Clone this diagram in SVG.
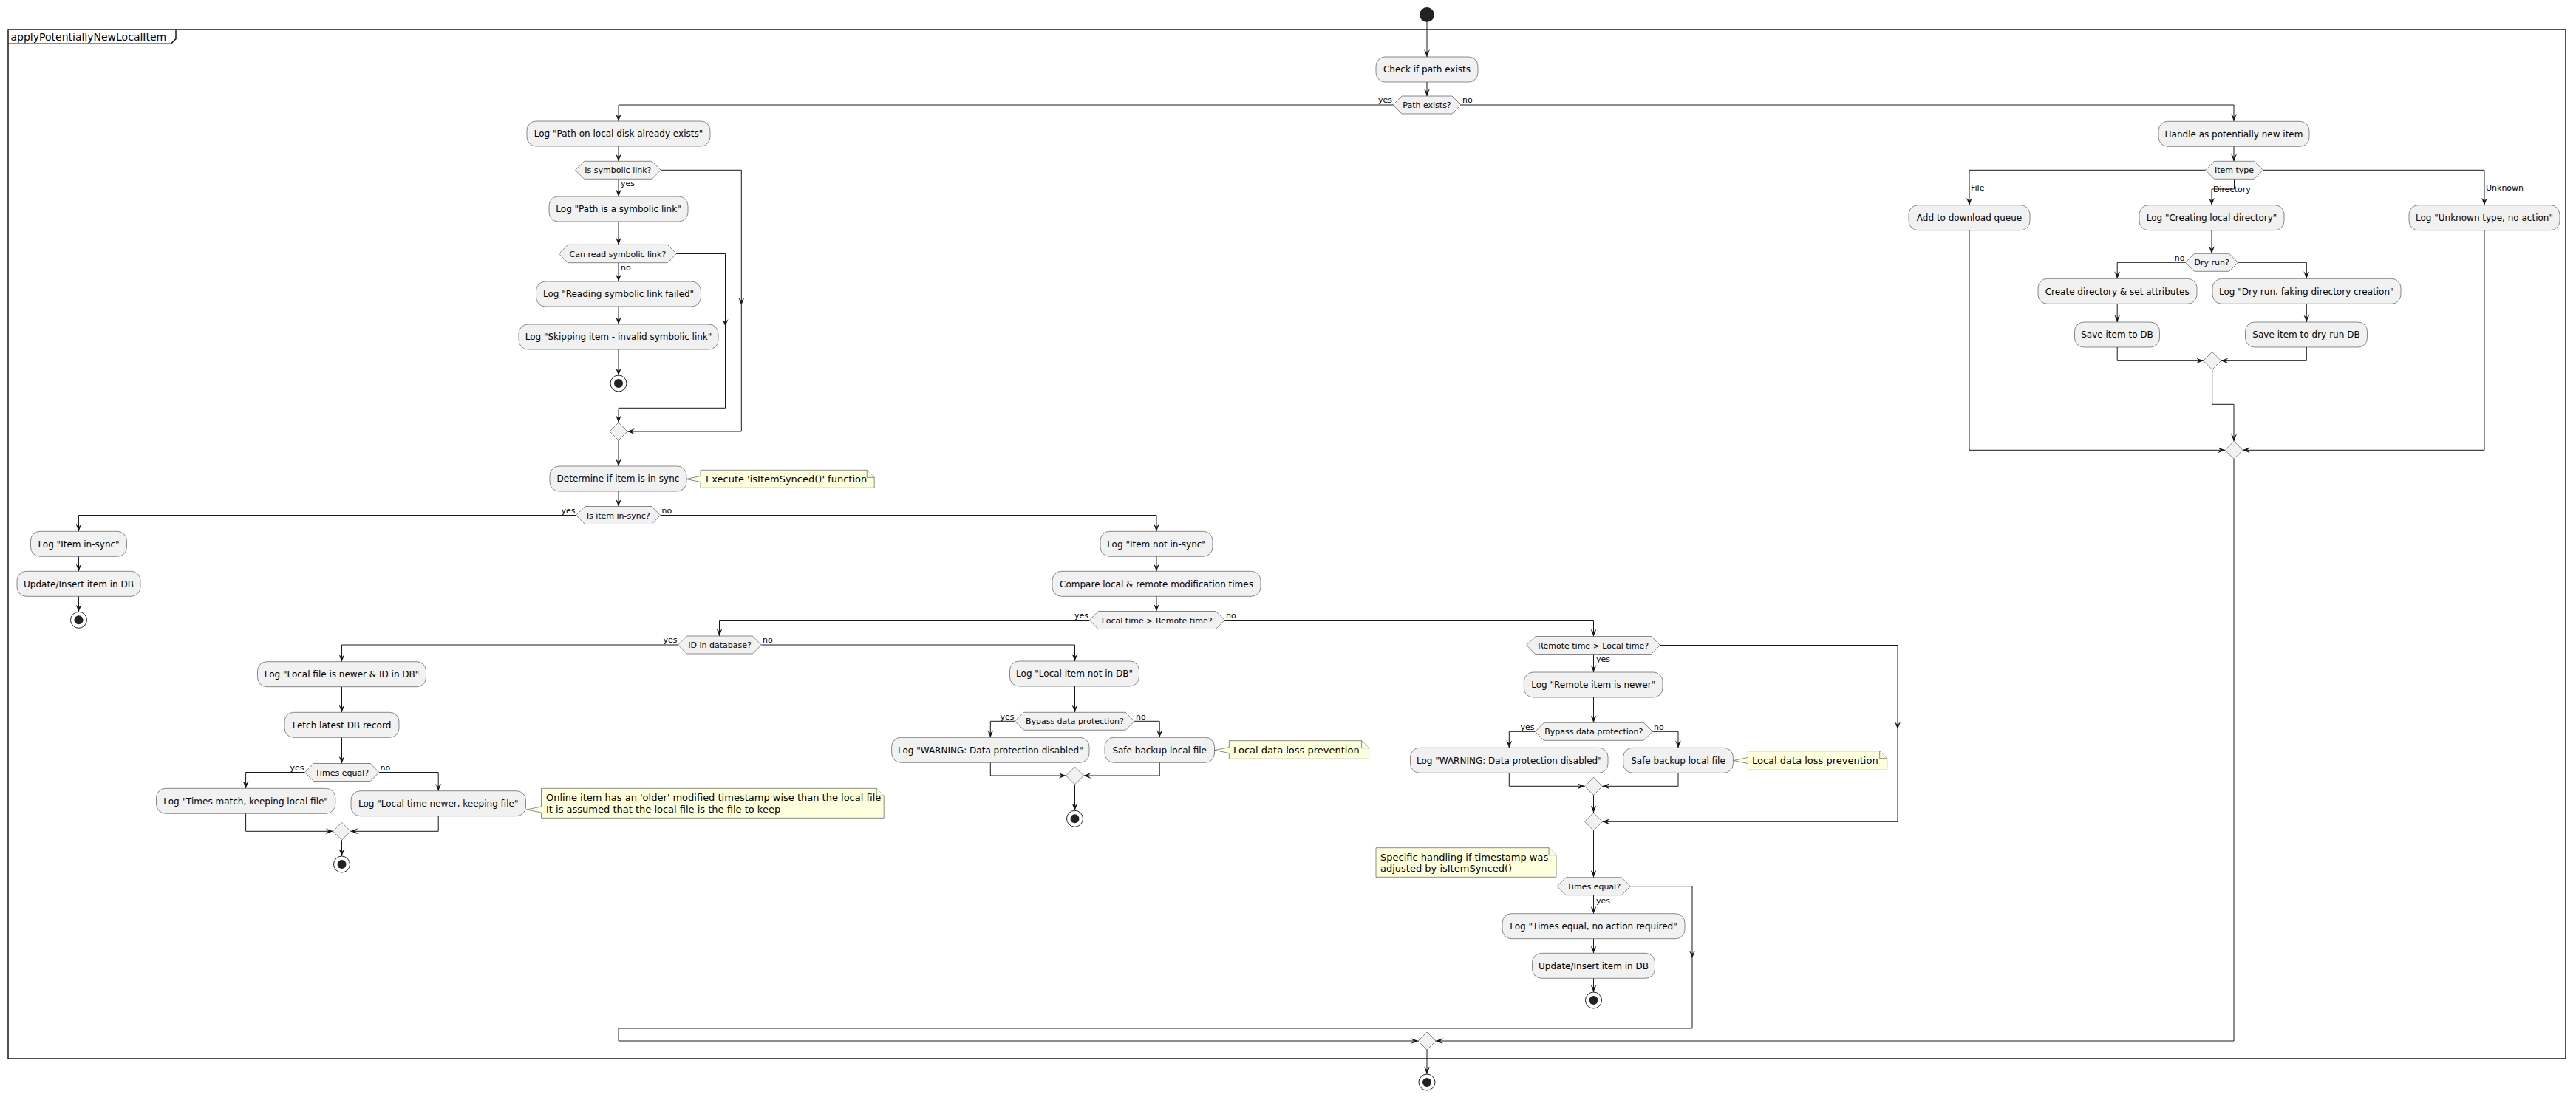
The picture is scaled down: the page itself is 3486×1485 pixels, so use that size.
<svg xmlns="http://www.w3.org/2000/svg" width="3486" height="1485" viewBox="0 0 3486 1485">
<defs>
<style>
.box{fill:#F1F1F1;stroke:#181818;stroke-width:0.5}
.note{fill:#FEFFDD;stroke:#181818;stroke-width:0.5}
.ln{fill:none;stroke:#181818;stroke-width:1}
.ar{fill:none;stroke:#181818;stroke-width:1;marker-end:url(#a)}
.t{font-family:"DejaVu Sans","Liberation Sans",sans-serif;font-size:12px;text-anchor:middle;fill:#000}
.td{font-family:"DejaVu Sans","Liberation Sans",sans-serif;font-size:11px;text-anchor:middle;fill:#000}
.lb{font-family:"DejaVu Sans","Liberation Sans",sans-serif;font-size:11px;fill:#000}
.lbe{font-family:"DejaVu Sans","Liberation Sans",sans-serif;font-size:11px;fill:#000;text-anchor:end}
.tn{font-family:"DejaVu Sans","Liberation Sans",sans-serif;font-size:13px;fill:#000}
.start{fill:#222222}
.stopo{fill:none;stroke:#222222;stroke-width:1}
.stopi{fill:#222222}
</style>
<marker id="a" viewBox="0 0 10 8" refX="10" refY="4" markerWidth="10" markerHeight="8" markerUnits="userSpaceOnUse" orient="auto"><path d="M0,0 L10,4 L0,8 L4,4 Z" fill="#181818"/></marker>
</defs>
<rect width="3486" height="1485" fill="#FFFFFF"/>

<g id="frame">
<rect x="11" y="40" width="3461" height="1393" fill="none" stroke="#181818" stroke-width="1.5"/>
<path d="M11,59.3 H231.3 L238,52.6 V40" fill="none" stroke="#181818" stroke-width="1.5"/>
<text x="14.5" y="55" font-family="DejaVu Sans, sans-serif" font-size="14px">applyPotentiallyNewLocalItem</text>
</g>

<g id="connectors">
<path class="ar" d="M1931,30 V77"/>
<path class="ar" d="M1931,111 V130"/>
<path class="ar" d="M1885,142 H837 V164"/>
<path class="ar" d="M1977,142 H3023 V164"/>
<path class="ar" d="M837,198 V218.3"/>
<path class="ar" d="M837,242.3 V266"/>
<path class="ar" d="M837,300 V331.3"/>
<path class="ar" d="M837,355.7 V381"/>
<path class="ar" d="M837,415 V439"/>
<path class="ar" d="M837,473 V508"/>
<path class="ar" d="M915.3,343.5 H981.5 V442"/>
<path class="ar" d="M981.5,442 V552.3 H837 V572"/>
<path class="ar" d="M894.2,230.3 H1003.3 V413"/>
<path class="ar" d="M1003.3,413 V584 H849"/>
<path class="ar" d="M837,596 V631"/>
<path class="ar" d="M837,665 V685.5"/>
<path class="ar" d="M779.6,697.5 H106.5 V719.3"/>
<path class="ar" d="M106.5,753.3 V773.3"/>
<path class="ar" d="M106.5,807.3 V828.3"/>
<path class="ar" d="M893.8,697.5 H1565 V719.3"/>
<path class="ar" d="M1565,753.3 V773.3"/>
<path class="ar" d="M1565,807.3 V827.5"/>
<path class="ar" d="M1474.2,839.5 H973.5 V861"/>
<path class="ar" d="M1657.3,839.5 H2156.5 V861.5"/>
<path class="ar" d="M917.5,873 H462.5 V895.7"/>
<path class="ar" d="M462.5,929.7 V964.3"/>
<path class="ar" d="M462.5,998.3 V1033.5"/>
<path class="ar" d="M412.4,1045.5 H332.6 V1067.3"/>
<path class="ar" d="M513.1,1045.5 H593.2 V1070.7"/>
<path class="ar" d="M332.6,1101.3 V1125.3 H450.5"/>
<path class="ar" d="M593.2,1104.7 V1125.3 H474.5"/>
<path class="ar" d="M462.5,1137.3 V1159"/>
<path class="ar" d="M1030.4,873 H1454.5 V895"/>
<path class="ar" d="M1454.5,929 V964.3"/>
<path class="ar" d="M1373.5,976.3 H1340.3 V998.3"/>
<path class="ar" d="M1535.2,976.3 H1569.2 V998.3"/>
<path class="ar" d="M1340.3,1032.3 V1050 H1442.5"/>
<path class="ar" d="M1569.2,1032.3 V1050 H1466.5"/>
<path class="ar" d="M1454.5,1062 V1097.3"/>
<path class="ar" d="M2156.5,885.5 V910"/>
<path class="ar" d="M2156.5,944 V978.3"/>
<path class="ar" d="M2077.3,990.3 H2042.3 V1012.3"/>
<path class="ar" d="M2236.3,990.3 H2271 V1012.3"/>
<path class="ar" d="M2042.3,1046.3 V1064.3 H2144.5"/>
<path class="ar" d="M2271,1046.3 V1064.3 H2168.5"/>
<path class="ar" d="M2156.5,1076.3 V1100.3"/>
<path class="ar" d="M2246.6,873.5 H2568 V987"/>
<path class="ar" d="M2568,987 V1112.3 H2168.5"/>
<path class="ar" d="M2156.5,1124.3 V1187.7"/>
<path class="ar" d="M2156.5,1211.7 V1236.7"/>
<path class="ar" d="M2156.5,1270.7 V1290.3"/>
<path class="ar" d="M2156.5,1324.3 V1343"/>
<path class="ar" d="M2206.4,1199.7 H2290 V1297"/>
<path class="ar" d="M2290,1297 V1392 H837 V1409 H1919"/>
<path class="ar" d="M3023,198.3 V218.3"/>
<path class="ar" d="M2984.6,230.3 H2665 V277.7"/>
<path class="ar" d="M3023.5,242.3 V256 H2993 V277.7"/>
<path class="ar" d="M3062.5,230.3 H3362 V277.7"/>
<path class="ar" d="M2993,311.7 V343.3"/>
<path class="ar" d="M2957.5,355.3 H2865.2 V377.3"/>
<path class="ar" d="M3028.7,355.3 H3121.3 V377.3"/>
<path class="ar" d="M2865.2,411.3 V436"/>
<path class="ar" d="M3121.3,411.3 V436"/>
<path class="ar" d="M2865.2,470 V488.3 H2981.7"/>
<path class="ar" d="M3121.3,470 V488.3 H3005.7"/>
<path class="ar" d="M2993.7,500.3 V547.3 H3023 V597.3"/>
<path class="ar" d="M2665,311.7 V609.3 H3011"/>
<path class="ar" d="M3362,311.7 V609.3 H3035"/>
<path class="ar" d="M3023,621.3 V1409 H1943"/>
<path class="ar" d="M1931,1421 V1454"/>
</g>

<g id="start"><circle class="start" cx="1931" cy="20" r="10"/></g>

<g id="n_check"><rect class="box" x="1862" y="77" width="138" height="34" rx="12.5"/><text class="t" x="1931" y="98.3">Check if path exists</text></g>
<g id="d_pathexists"><polygon class="box" points="1885,142 1897,130 1965,130 1977,142 1965,154 1897,154"/><text class="td" x="1931" y="146">Path exists?</text>
<text class="lbe" x="1884" y="139">yes</text><text class="lb" x="1979" y="139">no</text></g>

<g id="n_pathonlocal"><rect class="box" x="713" y="164" width="248" height="34" rx="12.5"/><text class="t" x="837" y="185.3">Log "Path on local disk already exists"</text></g>
<g id="d_symlink"><polygon class="box" points="778.6,230.3 790.6,218.3 882.2,218.3 894.2,230.3 882.2,242.3 790.6,242.3"/><text class="td" x="836.4" y="234.3">Is symbolic link?</text>
<text class="lb" x="840" y="252">yes</text></g>
<g id="n_issymlink"><rect class="box" x="743" y="266" width="188" height="34" rx="12.5"/><text class="t" x="837" y="287.3">Log "Path is a symbolic link"</text></g>
<g id="d_canread"><polygon class="box" points="756.4,343.5 768.4,331.3 903.3,331.3 915.3,343.5 903.3,355.7 768.4,355.7"/><text class="td" x="835.9" y="347.5">Can read symbolic link?</text>
<text class="lb" x="840" y="366">no</text></g>
<g id="n_readfailed"><rect class="box" x="725.5" y="381" width="223" height="34" rx="12.5"/><text class="t" x="837" y="402.3">Log "Reading symbolic link failed"</text></g>
<g id="n_skipping"><rect class="box" x="702" y="439" width="270" height="34" rx="12.5"/><text class="t" x="837" y="460.3">Log "Skipping item - invalid symbolic link"</text></g>
<g id="stop_symlink"><circle class="stopo" cx="837" cy="519" r="11"/><circle class="stopi" cx="837" cy="519" r="6"/></g>
<g id="m_symlink"><polygon class="box" points="837,572 849,584 837,596 825,584"/></g>

<g id="n_determine"><rect class="box" x="744" y="631" width="185" height="34" rx="12.5"/><text class="t" x="836.5" y="652.3">Determine if item is in-sync</text></g>
<g id="note_execute"><path class="note" d="M948,636.3 H1173.2 L1183.2,646.3 V660.3 H948 V652.5 L928.5,648.5 L948,644.5 Z"/><path class="note" d="M1173.2,636.3 V646.3 H1183.2" fill="none"/><text class="tn" x="955" y="652.8">Execute 'isItemSynced()' function</text></g>
<g id="d_insync"><polygon class="box" points="779.6,697.5 791.6,685.5 881.8,685.5 893.8,697.5 881.8,709.5 791.6,709.5"/><text class="td" x="836.7" y="701.5">Is item in-sync?</text>
<text class="lbe" x="778.5" y="694.5">yes</text><text class="lb" x="895.5" y="694.5">no</text></g>

<g id="n_iteminsync"><rect class="box" x="41.5" y="719.3" width="130" height="34" rx="12.5"/><text class="t" x="106.5" y="740.6">Log "Item in-sync"</text></g>
<g id="n_updateinsert1"><rect class="box" x="23" y="773.3" width="167" height="34" rx="12.5"/><text class="t" x="106.5" y="794.6">Update/Insert item in DB</text></g>
<g id="stop_insync"><circle class="stopo" cx="106.5" cy="839.3" r="11"/><circle class="stopi" cx="106.5" cy="839.3" r="6"/></g>

<g id="n_notinsync"><rect class="box" x="1489" y="719.3" width="152" height="34" rx="12.5"/><text class="t" x="1565" y="740.6">Log "Item not in-sync"</text></g>
<g id="n_compare"><rect class="box" x="1424" y="773.3" width="282" height="34" rx="12.5"/><text class="t" x="1565" y="794.6">Compare local &amp; remote modification times</text></g>
<g id="d_localgtremote"><polygon class="box" points="1474.2,839.5 1486.2,827.5 1645.3,827.5 1657.3,839.5 1645.3,851.5 1486.2,851.5"/><text class="td" x="1565.7" y="843.5">Local time &gt; Remote time?</text>
<text class="lbe" x="1473" y="836.5">yes</text><text class="lb" x="1659" y="836.5">no</text></g>

<g id="d_idindb"><polygon class="box" points="917.5,873 929.5,861 1018.4,861 1030.4,873 1018.4,885 929.5,885"/><text class="td" x="974" y="877">ID in database?</text>
<text class="lbe" x="916.5" y="870">yes</text><text class="lb" x="1032" y="870">no</text></g>
<g id="n_localnewer"><rect class="box" x="348.5" y="895.7" width="228" height="34" rx="12.5"/><text class="t" x="462.5" y="917">Log "Local file is newer &amp; ID in DB"</text></g>
<g id="n_fetch"><rect class="box" x="385" y="964.3" width="155" height="34" rx="12.5"/><text class="t" x="462.5" y="985.6">Fetch latest DB record</text></g>
<g id="d_timesequal1"><polygon class="box" points="412.4,1045.5 424.4,1033.5 501.1,1033.5 513.1,1045.5 501.1,1057.5 424.4,1057.5"/><text class="td" x="462.75" y="1049.5">Times equal?</text>
<text class="lbe" x="411.5" y="1042.5">yes</text><text class="lb" x="514.5" y="1042.5">no</text></g>
<g id="n_timesmatch"><rect class="box" x="211.5" y="1067.3" width="242.3" height="34" rx="12.5"/><text class="t" x="332.6" y="1088.6">Log "Times match, keeping local file"</text></g>
<g id="n_localtimenewer"><rect class="box" x="475" y="1070.7" width="236.5" height="34" rx="12.5"/><text class="t" x="593.2" y="1092">Log "Local time newer, keeping file"</text></g>
<g id="note_online"><path class="note" d="M732.5,1067.3 H1186.2 L1196.2,1077.3 V1107.3 H732.5 V1100 L712.5,1096 L732.5,1092 Z"/><path class="note" d="M1186.2,1067.3 V1077.3 H1196.2" fill="none"/><text class="tn" x="739" y="1084">Online item has an 'older' modified timestamp wise than the local file</text><text class="tn" x="739" y="1099.5">It is assumed that the local file is the file to keep</text></g>
<g id="m_timesequal1"><polygon class="box" points="462.5,1113.3 474.5,1125.3 462.5,1137.3 450.5,1125.3"/></g>
<g id="stop_localnewer"><circle class="stopo" cx="462.5" cy="1170" r="11"/><circle class="stopi" cx="462.5" cy="1170" r="6"/></g>

<g id="n_localnotindb"><rect class="box" x="1366.5" y="895" width="175" height="34" rx="12.5"/><text class="t" x="1454" y="916.3">Log "Local item not in DB"</text></g>
<g id="d_bypass1"><polygon class="box" points="1373.5,976.3 1385.5,964.3 1523.2,964.3 1535.2,976.3 1523.2,988.3 1385.5,988.3"/><text class="td" x="1454.4" y="980.3">Bypass data protection?</text>
<text class="lbe" x="1372.5" y="973.5">yes</text><text class="lb" x="1537" y="973.5">no</text></g>
<g id="n_warning1"><rect class="box" x="1206.6" y="998.3" width="267.4" height="34" rx="12.5"/><text class="t" x="1340.3" y="1019.6">Log "WARNING: Data protection disabled"</text></g>
<g id="n_safebackup1"><rect class="box" x="1495" y="998.3" width="148.5" height="34" rx="12.5"/><text class="t" x="1569.2" y="1019.6">Safe backup local file</text></g>
<g id="note_dataloss1"><path class="note" d="M1663.3,1002.7 H1842.6 L1852.6,1012.7 V1027.3 H1663.3 V1019.5 L1643.8,1015.5 L1663.3,1011.7 Z"/><path class="note" d="M1842.6,1002.7 V1012.7 H1852.6" fill="none"/><text class="tn" x="1669" y="1020">Local data loss prevention</text></g>
<g id="m_bypass1"><polygon class="box" points="1454.5,1038 1466.5,1050 1454.5,1062 1442.5,1050"/></g>
<g id="stop_notindb"><circle class="stopo" cx="1454.5" cy="1108.3" r="11"/><circle class="stopi" cx="1454.5" cy="1108.3" r="6"/></g>

<g id="d_remotegtlocal"><polygon class="box" points="2065.8,873.5 2077.8,861.5 2234.6,861.5 2246.6,873.5 2234.6,885.5 2077.8,885.5"/><text class="td" x="2156.2" y="877.5">Remote time &gt; Local time?</text>
<text class="lb" x="2160" y="896">yes</text></g>
<g id="n_remotenewer"><rect class="box" x="2062.3" y="910" width="187.7" height="34" rx="12.5"/><text class="t" x="2156.2" y="931.3">Log "Remote item is newer"</text></g>
<g id="d_bypass2"><polygon class="box" points="2077.3,990.3 2089.3,978.3 2224.3,978.3 2236.3,990.3 2224.3,1002.3 2089.3,1002.3"/><text class="td" x="2156.8" y="994.3">Bypass data protection?</text>
<text class="lbe" x="2076.5" y="987.5">yes</text><text class="lb" x="2238" y="987.5">no</text></g>
<g id="n_warning2"><rect class="box" x="1908.5" y="1012.3" width="267.5" height="34" rx="12.5"/><text class="t" x="2042.3" y="1033.6">Log "WARNING: Data protection disabled"</text></g>
<g id="n_safebackup2"><rect class="box" x="2196.7" y="1012.3" width="148.7" height="34" rx="12.5"/><text class="t" x="2271" y="1033.6">Safe backup local file</text></g>
<g id="note_dataloss2"><path class="note" d="M2365.4,1016.7 H2543.7 L2553.7,1026.7 V1042.3 H2365.4 V1033.5 L2345.8,1029.5 L2365.4,1025.5 Z"/><path class="note" d="M2543.7,1016.7 V1026.7 H2553.7" fill="none"/><text class="tn" x="2371" y="1034">Local data loss prevention</text></g>
<g id="m_bypass2"><polygon class="box" points="2156.5,1052.3 2168.5,1064.3 2156.5,1076.3 2144.5,1064.3"/></g>
<g id="m_remotegtlocal"><polygon class="box" points="2156.5,1100.3 2168.5,1112.3 2156.5,1124.3 2144.5,1112.3"/></g>
<g id="note_specific"><path class="note" d="M1862,1147.7 H2096 L2106,1157.7 V1187.3 H1862 Z"/><path class="note" d="M2096,1147.7 V1157.7 H2106" fill="none"/><text class="tn" x="1868" y="1164.5">Specific handling if timestamp was</text><text class="tn" x="1868" y="1180">adjusted by isItemSynced()</text></g>
<g id="d_timesequal2"><polygon class="box" points="2107.1,1199.7 2119.1,1187.7 2194.4,1187.7 2206.4,1199.7 2194.4,1211.7 2119.1,1211.7"/><text class="td" x="2156.75" y="1203.7">Times equal?</text>
<text class="lb" x="2160" y="1222.5">yes</text></g>
<g id="n_timesequalnoaction"><rect class="box" x="2033" y="1236.7" width="247" height="34" rx="12.5"/><text class="t" x="2156.5" y="1258">Log "Times equal, no action required"</text></g>
<g id="n_updateinsert2"><rect class="box" x="2073.5" y="1290.3" width="166" height="34" rx="12.5"/><text class="t" x="2156.5" y="1311.6">Update/Insert item in DB</text></g>
<g id="stop_timesequal"><circle class="stopo" cx="2156.5" cy="1354" r="11"/><circle class="stopi" cx="2156.5" cy="1354" r="6"/></g>

<g id="n_handle"><rect class="box" x="2921" y="164.3" width="204" height="34" rx="12.5"/><text class="t" x="3023" y="185.6">Handle as potentially new item</text></g>
<g id="d_itemtype"><polygon class="box" points="2984.6,230.3 2996.6,218.3 3050.5,218.3 3062.5,230.3 3050.5,242.3 2996.6,242.3"/><text class="td" x="3023.5" y="234.3">Item type</text>
<text class="lb" x="2667" y="258">File</text><text class="lb" x="2995" y="259.5">Directory</text><text class="lb" x="3364" y="258">Unknown</text></g>
<g id="n_download"><rect class="box" x="2583" y="277.7" width="164" height="34" rx="12.5"/><text class="t" x="2665" y="299">Add to download queue</text></g>
<g id="n_creatingdir"><rect class="box" x="2895" y="277.7" width="196" height="34" rx="12.5"/><text class="t" x="2993" y="299">Log "Creating local directory"</text></g>
<g id="n_unknown"><rect class="box" x="3260" y="277.7" width="204" height="34" rx="12.5"/><text class="t" x="3362" y="299">Log "Unknown type, no action"</text></g>
<g id="d_dryrun"><polygon class="box" points="2957.5,355.3 2969.5,343.3 3016.7,343.3 3028.7,355.3 3016.7,367.3 2969.5,367.3"/><text class="td" x="2993.1" y="359.3">Dry run?</text>
<text class="lbe" x="2956.5" y="352.5">no</text></g>
<g id="n_createdir"><rect class="box" x="2758" y="377.3" width="215" height="34" rx="12.5"/><text class="t" x="2865.2" y="398.6">Create directory &amp; set attributes</text></g>
<g id="n_dryrunfake"><rect class="box" x="2994" y="377.3" width="255" height="34" rx="12.5"/><text class="t" x="3121.3" y="398.6">Log "Dry run, faking directory creation"</text></g>
<g id="n_saveitem"><rect class="box" x="2807.5" y="436" width="115" height="34" rx="12.5"/><text class="t" x="2865" y="457.3">Save item to DB</text></g>
<g id="n_savedryrun"><rect class="box" x="3038.5" y="436" width="165" height="34" rx="12.5"/><text class="t" x="3121" y="457.3">Save item to dry-run DB</text></g>
<g id="m_dryrun"><polygon class="box" points="2993.7,476.3 3005.7,488.3 2993.7,500.3 2981.7,488.3"/></g>
<g id="m_itemtype"><polygon class="box" points="3023,597.3 3035,609.3 3023,621.3 3011,609.3"/></g>

<g id="m_final"><polygon class="box" points="1931,1397 1943,1409 1931,1421 1919,1409"/></g>
<g id="stop_final"><circle class="stopo" cx="1931" cy="1465" r="11"/><circle class="stopi" cx="1931" cy="1465" r="6"/></g>
</svg>
